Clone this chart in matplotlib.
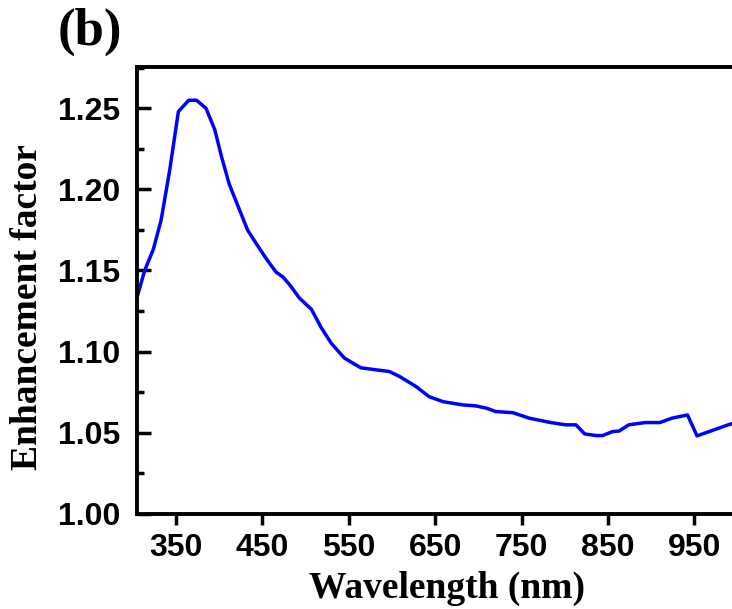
import matplotlib
matplotlib.use("Agg")
import matplotlib.pyplot as plt
from matplotlib.ticker import MultipleLocator

# wavelength (nm) and enhancement factor
wavelength = [305, 314, 324, 333, 343, 353, 365, 374, 385, 395, 403, 412, 424,
              433, 445, 455, 466, 474, 482, 493, 507, 518, 530, 545, 564, 582,
              597, 609, 628, 643, 659, 682, 697, 710, 720, 740, 759, 784, 801,
              813, 823, 836, 844, 855, 863, 874, 893, 910, 924, 942, 953, 970,
              989, 1000]
enhancement = [1.133, 1.150, 1.163, 1.181, 1.212, 1.248, 1.255, 1.255, 1.250,
               1.237, 1.220, 1.203, 1.187, 1.175, 1.165, 1.157, 1.149, 1.146,
               1.141, 1.133, 1.126, 1.115, 1.105, 1.096, 1.090, 1.0887, 1.0877,
               1.0846, 1.0784, 1.0722, 1.0691, 1.0671, 1.0665, 1.065, 1.063,
               1.0623, 1.0589, 1.0562, 1.0548, 1.0548, 1.0492, 1.0482, 1.0482,
               1.0506, 1.051, 1.0548, 1.0562, 1.0562, 1.0589, 1.0609, 1.048,
               1.0512, 1.0548, 1.0565]

xticks = [350, 450, 550, 650, 750, 850, 950]
yticks = [1.00, 1.05, 1.10, 1.15, 1.20, 1.25]

fig = plt.figure(figsize=(7.32, 6.09), dpi=100)
# right edge of the axes runs off the figure, as in the reference
ax = fig.add_axes([0.187, 0.1565, 0.8207, 0.7335])

ax.plot(wavelength, enhancement, color="#0000ff", lw=2.5)

ax.set_xlim(305, 1000)
ax.set_ylim(1.0, 1.2755)
ax.set_xticks(xticks)
ax.set_yticks(yticks)
ax.yaxis.set_minor_locator(MultipleLocator(0.025))
ax.set_yticklabels([f"{v:.2f}" for v in yticks])

for lab in ax.get_xticklabels() + ax.get_yticklabels():
    lab.set_fontfamily("Liberation Sans")
    lab.set_fontweight("bold")
    lab.set_fontsize(23)

ax.tick_params(axis="y", which="major", direction="in", length=10, width=2.5, pad=12)
ax.tick_params(axis="y", which="minor", direction="in", length=5, width=2.5)
ax.tick_params(axis="x", which="major", direction="out", length=8, width=2.5, pad=6)
ax.tick_params(top=False, right=False)

for s in ax.spines.values():
    s.set_linewidth(2.8)

label_font = dict(family="Liberation Serif", weight="bold", size=27)
ax.set_xlabel("Wavelength (nm)", **label_font)
ax.set_ylabel("Enhancement factor", **label_font)
ax.xaxis.set_label_coords(0.517, -0.128)
ax.yaxis.set_label_coords(-0.153, 0.462)

fig.text(58 / 732, 1 - 45 / 609, "(b)", family="Liberation Serif",
         weight="bold", size=38, va="baseline")

fig.savefig("out.png", dpi=100)
